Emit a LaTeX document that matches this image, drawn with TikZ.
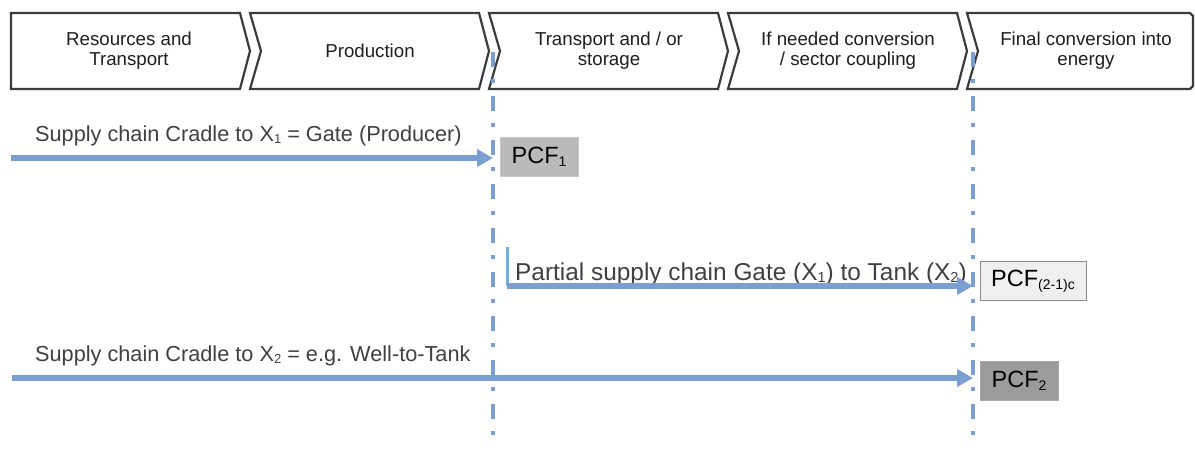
\documentclass[tikz,border=0pt]{standalone}
\usepackage{fontspec}
\setmainfont{Liberation Sans}
\usetikzlibrary{arrows.meta}
\definecolor{ablue}{RGB}{124,159,209}
\definecolor{vblue}{RGB}{112,176,226}
\definecolor{chevline}{RGB}{60,60,60}
\definecolor{labgray}{RGB}{64,64,64}
\definecolor{pcfa}{RGB}{186,186,186}
\definecolor{pcfb}{RGB}{240,240,240}
\definecolor{pcfc}{RGB}{155,155,155}
\newcommand\mysub[2]{\raisebox{-0.12em}{\fontsize{#1}{#1}\selectfont #2}}
\begin{document}
\begin{tikzpicture}[x=1pt,y=-1pt,
  chev/.style={draw=chevline, line width=2.2pt, fill=white, line join=miter},
  chevtext/.style={align=center, font=\fontsize{18.7}{20}\selectfont, text=black!88, inner sep=0pt},
  lab/.style={anchor=base west, inner sep=0pt, text=labgray},
  pcfbox/.style={minimum height=39pt, inner sep=0pt, line width=1pt, font=\fontsize{23.5}{24}\selectfont},
  vdash/.style={draw=ablue, line width=3.5pt, dash pattern=on 15pt off 12pt on 4pt off 13pt},
  arr/.style={draw=ablue, line width=5.5pt, -{Triangle[length=16pt,width=17pt]}},
  vbar/.style={draw=vblue, line width=3pt}]
\useasboundingbox (0,0) rectangle (1195,452);

% chevrons
\draw[chev] (11,13) -- (240,13) -- (250,51) -- (240,89) -- (11,89) -- cycle;
\foreach \L in {250,489,728}{
  \draw[chev] (\L,13) -- ({\L+229},13) -- ({\L+239},51) -- ({\L+229},89) -- (\L,89) -- ({\L+11},51) -- cycle;
}
\draw[chev] (967,13) -- (1190,13) -- (1193,16) -- (1193,86) -- (1190,89) -- (967,89) -- (978,51) -- cycle;

\node[chevtext] (c1) at (129,51) {Resources and\\Transport};
\node[chevtext] (c2) at (370,51) {Production};
\node[chevtext] (c3) at (609,51) {Transport and / or\\storage};
\node[chevtext] (c4) at (848,51) {If needed conversion\\/ sector coupling};
\node[chevtext] (c5) at (1086,51) {Final conversion into\\energy};

% dash-dot lines
\coordinate (d1t) at (493,52);
\coordinate (d1b) at (493,444);
\coordinate (d2t) at (973,52);
\coordinate (d2b) at (973,444);
\draw[vdash] (d1t) -- (d1b);
\draw[vdash] (d2t) -- (d2b);

% PCF boxes
\node[pcfbox, minimum width=78pt, fill=pcfa, draw=pcfa!80!white] (p1) at (539,157) {PCF\mysub{14}{1}};
\node[pcfbox, minimum width=106pt, fill=pcfb, draw=black!45] (p21) at (1033,281) {PCF\mysub{14}{(2-1)c}};
\node[pcfbox, minimum width=78pt, fill=pcfc, draw=pcfc!85!white] (p2) at (1019,381) {PCF\mysub{14}{2}};

% labels
\node[lab, font=\fontsize{21.7}{22}\selectfont] (l1) at (35,141) {Supply chain Cradle to X\mysub{13}{1} = Gate (Producer)};
\node[lab, font=\fontsize{24.4}{25}\selectfont] (l2) at (515,280) {Partial supply chain Gate (X\mysub{14.5}{1}) to Tank (X\mysub{14.5}{2})};
\node[lab, font=\fontsize{21.7}{22}\selectfont] (l3) at (35,361) {Supply chain Cradle to X\mysub{13}{2} = e.g. Well-to-Tank};

% arrows
\coordinate (a1s) at (11,158);
\draw[arr] (a1s) -- (a1s -| d1t);
\coordinate (a2b) at (507,247);
\coordinate (a2s) at (507,286);
\draw[vbar] (a2b) -- (a2s);
\draw[arr] (a2s) -- (a2s -| d2t);
\coordinate (a3s) at (12,378);
\draw[arr] (a3s) -- (a3s -| d2t);
\end{tikzpicture}
\end{document}
